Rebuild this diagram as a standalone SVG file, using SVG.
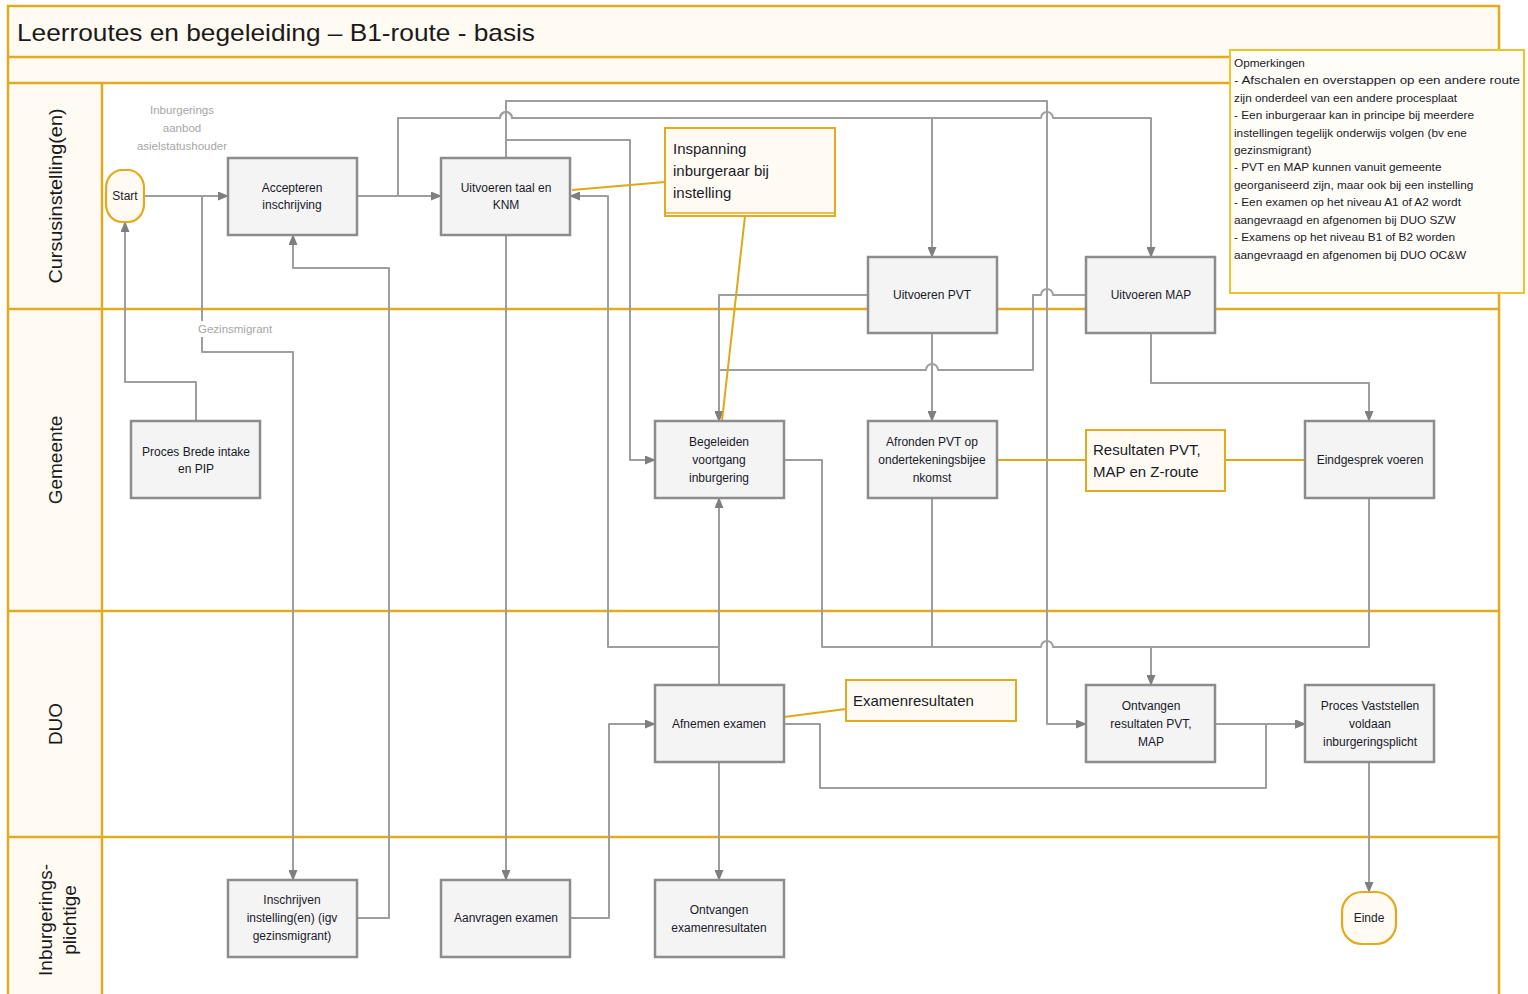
<svg xmlns="http://www.w3.org/2000/svg" width="1528" height="994" viewBox="0 0 1528 994">
<defs>
<marker id="ar" markerWidth="11" markerHeight="9" refX="10" refY="4.5" orient="auto" markerUnits="userSpaceOnUse">
<path d="M0,0 L11,4.5 L0,9 z" fill="#7f7f7f"/>
</marker>
<style>
.lane{fill:#fffaf2;stroke:none}
.ol{stroke:#e3aa1f;stroke-width:2.5;fill:none}
.box{fill:#f4f4f4;stroke:#8c8c8c;stroke-width:2.5}
.note{fill:#fffaf2;stroke:#e3aa1f;stroke-width:2}
.term{fill:#fffaf2;stroke:#e3aa1f;stroke-width:2.2}
.t{font-family:"Liberation Sans",Arial,sans-serif;font-size:12px;fill:#1a1a2a;text-anchor:middle}
.nt{font-family:"Liberation Sans",Arial,sans-serif;font-size:15px;fill:#1a1a2a}
.gl{font-family:"Liberation Sans",Arial,sans-serif;font-size:11.5px;fill:#a6a6a6}
.ll{font-family:"Liberation Sans",Arial,sans-serif;font-size:19px;fill:#1a1a1a;text-anchor:middle}
.rm{font-family:"Liberation Sans",Arial,sans-serif;font-size:11.8px;fill:#1a1a2a}
.c{fill:none;stroke:#9e9e9e;stroke-width:2;stroke-linejoin:round}
.ca{fill:none;stroke:#9e9e9e;stroke-width:2;stroke-linejoin:round;marker-end:url(#ar)}
.as{fill:none;stroke:#e0a818;stroke-width:2}
</style>
</defs>
<rect x="0" y="0" width="1528" height="994" fill="#ffffff"/>
<g id="pool">
<rect class="lane" x="8" y="6" width="1491" height="77"/>
<rect class="lane" x="8" y="83" width="94" height="911"/>
<rect x="8" y="6" width="1491" height="995" class="ol"/>
<line class="ol" x1="8" y1="57" x2="1499" y2="57"/>
<line class="ol" x1="8" y1="83" x2="1499" y2="83"/>
<line class="ol" x1="8" y1="309" x2="1499" y2="309"/>
<line class="ol" x1="8" y1="611" x2="1499" y2="611"/>
<line class="ol" x1="8" y1="837" x2="1499" y2="837"/>
<line class="ol" x1="102" y1="83" x2="102" y2="994"/>
<text x="17" y="41" font-family="Liberation Sans, Arial, sans-serif" font-size="24" fill="#1a1a1a" textLength="518" lengthAdjust="spacingAndGlyphs">Leerroutes en begeleiding – B1-route - basis</text>
<text class="ll" transform="translate(62,196) rotate(-90)" textLength="175" lengthAdjust="spacingAndGlyphs">Cursusinstelling(en)</text>
<text class="ll" transform="translate(62,460) rotate(-90)">Gemeente</text>
<text class="ll" transform="translate(62,724) rotate(-90)">DUO</text>
<text class="ll" transform="translate(52,920) rotate(-90)">Inburgerings-</text>
<text class="ll" transform="translate(76,920) rotate(-90)">plichtige</text>
</g>
<g id="connectors">
<path class="ca" d="M144,196 H228"/>
<path class="ca" d="M202,196 V352 H293 V880"/>
<path class="ca" d="M196,421 V382 H125 V222"/>
<path class="ca" d="M357,196 H441"/>
<path class="ca" d="M398,196 V118 H500 a6,6 0 0 1 12,0 H932 V257"/>
<path class="ca" d="M398,196 V118 H500 a6,6 0 0 1 12,0 H1041 a6,6 0 0 1 12,0 H1151 V257"/>
<path class="ca" d="M506,158 V101 H1047 V724 H1086"/>
<path class="ca" d="M506,158 V140 H630 V460 H655"/>
<path class="ca" d="M506,235 V880"/>
<path class="ca" d="M868,295 H719 V421"/>
<path class="ca" d="M1086,295 H1053 a6,6 0 0 0 -12,0 H1033 V370 H938 a6,6 0 0 0 -12,0 H719 V421"/>
<path class="ca" d="M932,333 V421"/>
<path class="ca" d="M1151,333 V383 H1369 V421"/>
<path class="ca" d="M784,460 H822 V647 H1041 a6,6 0 0 1 12,0 H1151 V685"/>
<path class="c" d="M932,498 V647"/>
<path class="c" d="M1369,498 V647 H1151"/>
<path class="ca" d="M719,685 V498"/>
<path class="ca" d="M719,685 V647 H608 V196 H570"/>
<path class="ca" d="M719,762 V880"/>
<path class="ca" d="M784,724 H820 V788 H1266 V724 H1305"/>
<path class="ca" d="M1215,724 H1305"/>
<path class="ca" d="M570,918 H609 V724 H655"/>
<path class="ca" d="M357,918 H389 V268 H293 V235"/>
<path class="ca" d="M1369,762 V892"/>
<path class="as" d="M572,190 L665,182"/>
<path class="as" d="M745,216 L722,421"/>
<path class="as" d="M997,460 H1086"/>
<path class="as" d="M1225,460 H1305"/>
<path class="as" d="M784,717 L846,709"/>
</g>
<g id="label-aanbod">
<text class="gl" text-anchor="middle" x="182" y="114">Inburgerings</text>
<text class="gl" text-anchor="middle" x="182" y="132">aanbod</text>
<text class="gl" text-anchor="middle" x="182" y="150">asielstatushouder</text>
</g>
<g id="label-gezinsmigrant">
<rect x="197" y="321" width="90" height="16" fill="#ffffff"/>
<text class="gl" x="198" y="333">Gezinsmigrant</text>
</g>
<g id="start">
<rect class="term" x="106" y="170" width="38" height="52" rx="16" ry="18"/>
<text class="t" x="125" y="200">Start</text>
</g>
<g id="accepteren">
<rect class="box" x="228" y="158" width="129" height="77"/>
<text class="t" x="292" y="192">Accepteren</text>
<text class="t" x="292" y="209">inschrijving</text>
</g>
<g id="uitvoeren-taal">
<rect class="box" x="441" y="158" width="129" height="77"/>
<text class="t" x="506" y="192">Uitvoeren taal en</text>
<text class="t" x="506" y="209">KNM</text>
</g>
<g id="inspanning">
<rect class="note" x="665" y="128" width="170" height="88"/>
<line x1="665" y1="213" x2="835" y2="213" stroke="#e3aa1f" stroke-width="1.5"/>
<text class="nt" x="673" y="154">Inspanning</text>
<text class="nt" x="673" y="176">inburgeraar bij</text>
<text class="nt" x="673" y="198">instelling</text>
</g>
<g id="uitvoeren-pvt">
<rect class="box" x="868" y="257" width="129" height="76"/>
<text class="t" x="932" y="299">Uitvoeren PVT</text>
</g>
<g id="uitvoeren-map">
<rect class="box" x="1086" y="257" width="129" height="76"/>
<text class="t" x="1151" y="299">Uitvoeren MAP</text>
</g>
<g id="opmerkingen">
<rect x="1230" y="50" width="294" height="243" fill="#fffdf7" stroke="#f2c12e" stroke-width="2"/>
<text class="rm" x="1234" y="67">Opmerkingen</text>
<text class="rm" x="1234" y="84" textLength="286" lengthAdjust="spacingAndGlyphs">- Afschalen en overstappen op een andere route</text>
<text class="rm" x="1234" y="102">zijn onderdeel van een andere procesplaat</text>
<text class="rm" x="1234" y="119">- Een inburgeraar kan in principe bij meerdere</text>
<text class="rm" x="1234" y="137">instellingen tegelijk onderwijs volgen (bv ene</text>
<text class="rm" x="1234" y="154">gezinsmigrant)</text>
<text class="rm" x="1234" y="171">- PVT en MAP kunnen vanuit gemeente</text>
<text class="rm" x="1234" y="189">georganiseerd zijn, maar ook bij een instelling</text>
<text class="rm" x="1234" y="206">- Een examen op het niveau A1 of A2 wordt</text>
<text class="rm" x="1234" y="224">aangevraagd en afgenomen bij DUO SZW</text>
<text class="rm" x="1234" y="241">- Examens op het niveau B1 of B2 worden</text>
<text class="rm" x="1234" y="259">aangevraagd en afgenomen bij DUO OC&amp;W</text>
</g>
<g id="brede-intake">
<rect class="box" x="131" y="421" width="129" height="77"/>
<text class="t" x="196" y="456">Proces Brede intake</text>
<text class="t" x="196" y="473">en PIP</text>
</g>
<g id="begeleiden">
<rect class="box" x="655" y="421" width="129" height="77"/>
<text class="t" x="719" y="446">Begeleiden</text>
<text class="t" x="719" y="464">voortgang</text>
<text class="t" x="719" y="482">inburgering</text>
</g>
<g id="afronden-pvt">
<rect class="box" x="868" y="421" width="129" height="77"/>
<text class="t" x="932" y="446">Afronden PVT op</text>
<text class="t" x="932" y="464">ondertekeningsbijee</text>
<text class="t" x="932" y="482">nkomst</text>
</g>
<g id="resultaten">
<rect class="note" x="1086" y="430" width="139" height="61"/>
<text class="nt" x="1093" y="455">Resultaten PVT,</text>
<text class="nt" x="1093" y="477">MAP en Z-route</text>
</g>
<g id="eindgesprek">
<rect class="box" x="1305" y="421" width="129" height="77"/>
<text class="t" x="1370" y="464">Eindgesprek voeren</text>
</g>
<g id="afnemen-examen">
<rect class="box" x="655" y="685" width="129" height="77"/>
<text class="t" x="719" y="728">Afnemen examen</text>
</g>
<g id="examenresultaten">
<rect class="note" x="846" y="680" width="170" height="41"/>
<text class="nt" x="853" y="706">Examenresultaten</text>
</g>
<g id="ontvangen-resultaten">
<rect class="box" x="1086" y="685" width="129" height="77"/>
<text class="t" x="1151" y="710">Ontvangen</text>
<text class="t" x="1151" y="728">resultaten PVT,</text>
<text class="t" x="1151" y="746">MAP</text>
</g>
<g id="vaststellen">
<rect class="box" x="1305" y="685" width="129" height="77"/>
<text class="t" x="1370" y="710">Proces Vaststellen</text>
<text class="t" x="1370" y="728">voldaan</text>
<text class="t" x="1370" y="746">inburgeringsplicht</text>
</g>
<g id="inschrijven">
<rect class="box" x="228" y="880" width="129" height="77"/>
<text class="t" x="292" y="904">Inschrijven</text>
<text class="t" x="292" y="922">instelling(en) (igv</text>
<text class="t" x="292" y="940">gezinsmigrant)</text>
</g>
<g id="aanvragen-examen">
<rect class="box" x="441" y="880" width="129" height="77"/>
<text class="t" x="506" y="922">Aanvragen examen</text>
</g>
<g id="ontvangen-examenresultaten">
<rect class="box" x="655" y="880" width="129" height="77"/>
<text class="t" x="719" y="914">Ontvangen</text>
<text class="t" x="719" y="932">examenresultaten</text>
</g>
<g id="einde">
<rect class="term" x="1342" y="892" width="54" height="52" rx="20" ry="20"/>
<text class="t" x="1369" y="922">Einde</text>
</g>
</svg>
